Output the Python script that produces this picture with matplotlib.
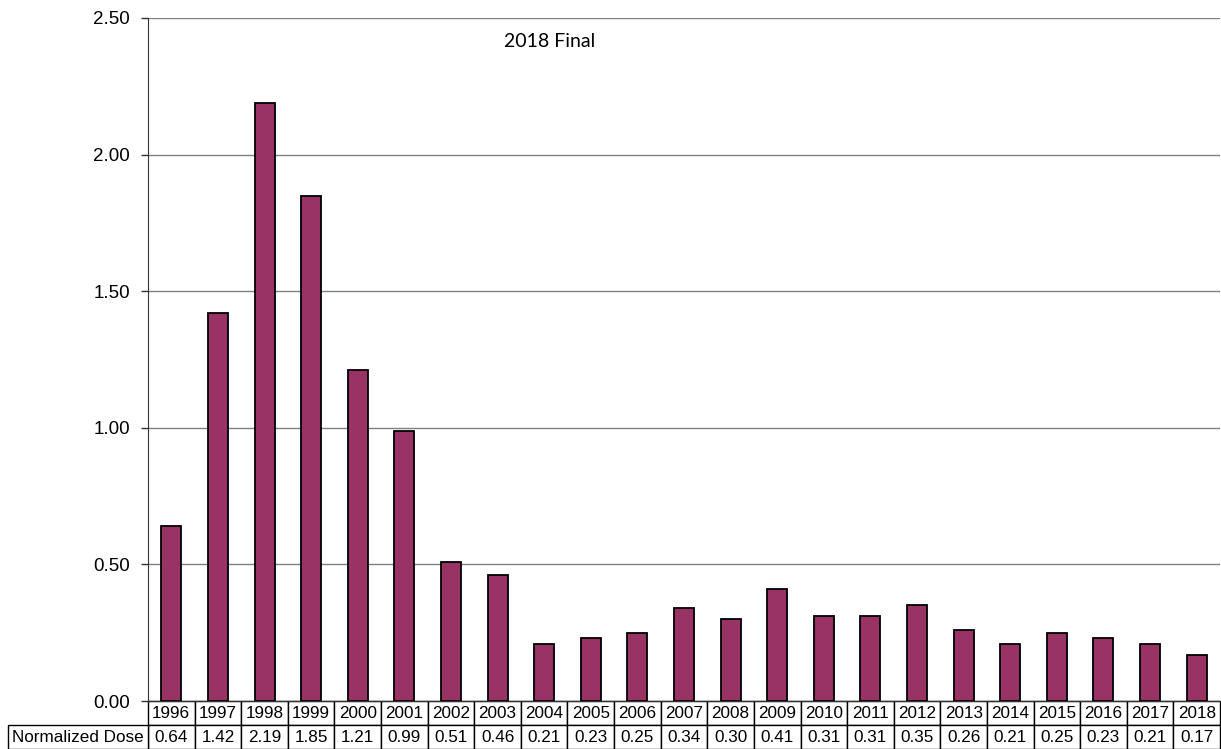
import matplotlib.pyplot as plt

years = [str(y) for y in range(1996, 2019)]
dose = [0.64, 1.42, 2.19, 1.85, 1.21, 0.99, 0.51, 0.46, 0.21, 0.23, 0.25, 0.34,
        0.30, 0.41, 0.31, 0.31, 0.35, 0.26, 0.21, 0.25, 0.23, 0.21, 0.17]
yticks = [0.0, 0.5, 1.0, 1.5, 2.0, 2.5]
row_label = "Normalized Dose"
title = "2018 Final"

plt.rcParams['font.family'] = ['Liberation Sans', 'DejaVu Sans']

fig = plt.figure(figsize=(12.21, 7.49), dpi=100)
ax_w = 1 - 148 / 1221 - 1 / 1221
ax = fig.add_axes([148 / 1221, 1 - 701 / 749, ax_w, 683 / 749])

x = list(range(len(years)))
ax.bar(x, dose, width=0.43, color='#993366', edgecolor='black', linewidth=1.3, zorder=3)

ax.set_xlim(-0.5, len(years) - 0.5)
ax.set_ylim(0, 2.5)
ax.set_yticks(yticks)
ax.set_yticklabels([f"{v:.2f}" for v in yticks], fontsize=13.5)
ax.yaxis.grid(True, color='#808080', linewidth=1, zorder=0)
ax.set_xticks([])
ax.tick_params(axis='y', length=5, width=1, color='#333333', pad=8)

for s in ['top', 'right']:
    ax.spines[s].set_visible(False)
ax.spines['left'].set_color('#333333')
ax.spines['bottom'].set_color('#333333')

ax.text(0.375, 0.966, title, transform=ax.transAxes, ha='center', va='center',
        fontsize=14, family=['Lato', 'DejaVu Sans'])

# data table under the bars
tbl = ax.table(cellText=[years, [f"{v:.2f}" for v in dose]], cellLoc='center',
               bbox=[0, -0.071, 1, 0.071])
tbl.auto_set_font_size(False)
tbl.set_fontsize(12.3)
for cell in tbl.get_celld().values():
    cell.set_linewidth(1)
    cell.set_edgecolor('black')

# row label cell
label_w = 140 / (ax_w * 1221)
lbl = ax.table(cellText=[[row_label]], cellLoc='center',
               bbox=[-label_w, -0.071, label_w, 0.0355])
lbl.auto_set_font_size(False)
lbl.set_fontsize(12.3)
for cell in lbl.get_celld().values():
    cell.set_linewidth(1)
    cell.set_edgecolor('black')

fig.savefig("out.png", dpi=100)
